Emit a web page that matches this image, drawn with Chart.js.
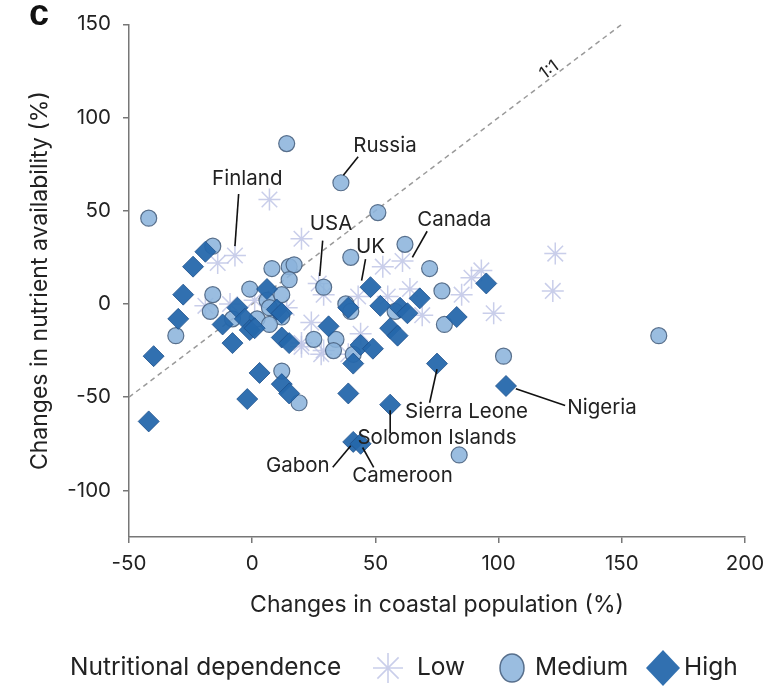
<!DOCTYPE html>
<html>
<head>
<meta charset="utf-8">
<script src="https://cdn.jsdelivr.net/npm/chart.js@4.4.0/dist/chart.umd.min.js"></script>
<style>
  html, body { margin: 0; padding: 0; background: #fff; }
  #wrap { width: 774px; height: 687px; position: relative; }
</style>
</head>
<body>
<div id="wrap"><canvas id="chartContainer"></canvas></div>
<script>
// Nutritional dependence: low (stars)
const lowX = [7, 20, -7, -14, -19, -9, 14, 27, 20, 29, 29, 43, 55, 53, 61, 64, 69, 44, 28, 39, 85, 89, 93, 98, 123, 122, 20, 1, 24];
const lowY = [56, 35, 26, 22, -1, 0, -2, 11, -23, -25, 5, 4, 4, 20, 23, 8, -6, -16, -27, -27, 5, 14, 18, -5, 27, 7, -21, 2, -10];
// medium (circles)
const medX = [-42, 14, 36, 51, 62, 40, 72, 29, 8, 15, 17, 15, -16, -1, -16, -17, -31, 6, 12, 7, 12, 2, 7, -8, 25, 34, 33, 41, 38, 40, 58, 77, 78, 102, 165, 84, 12, 19];
const medY = [46, 86, 65, 49, 32, 25, 19, 9, 19, 20, 21, 13, 31, 8, 5, -4, -17, 2, 5, -2, -7, -8, -11, -8, -19, -19, -25, -27, 0, -4, -4, 7, -11, -28, -17, -81, -36, -53];
// high (diamonds)
const highX = [-19, -24, -28, -30, -12, -8, -40, -6, -3, -1, 1, 6, 10, 12, 12, 15, 31, 48, 68, 95, 39, 52, 60, 63, 56, 59, 83, 44, 49, 41, 75, 39, 56, 103, 41, 44, 3, 12, 15, -2, -42];
const highY = [28, 20, 5, -8, -11, -21, -28, -2, -8, -14, -13, 8, -3, -5, -18, -21, -12, 9, 3, 11, -2, -1, -2, -5, -13, -17, -7, -22, -24, -32, -32, -48, -54, -44, -74, -75, -37, -43, -48, -51, -63];

const oneToOneX = [-50, 150];
const xTicks = [-50, 0, 50, 100, 150, 200];
const yTicks = [-100, -50, 0, 50, 100, 150];

// country labels: text anchor and leader line, in data units
const callouts = [
  { text: 'Russia', x: 41, y: 85, align: 'left', line: [43, 79, 37, 69] },
  { text: 'Finland', x: -2, y: 67, align: 'center', line: [-5.5, 59, -7, 31] },
  { text: 'USA', x: 32, y: 43, align: 'center', line: [28.6, 34, 27.4, 15] },
  { text: 'UK', x: 48, y: 30.4, align: 'center', line: [46, 24, 44.4, 12.5] },
  { text: 'Canada', x: 82, y: 45, align: 'center', line: [71, 39, 65, 25] },
  { text: 'Sierra Leone', x: 87, y: -58, align: 'center', line: [75, -35, 72, -53] },
  { text: 'Nigeria', x: 142, y: -55.5, align: 'center', line: [107, -45.5, 127, -54.5] },
  { text: 'Solomon Islands', x: 75, y: -72, align: 'center', line: [56, -57, 56, -69.5] },
  { text: 'Gabon', x: 18.5, y: -87, align: 'center', line: [32.7, -87.6, 40, -76] },
  { text: 'Cameroon', x: 61, y: -92.4, align: 'center', line: [49.3, -87.6, 44.8, -77] }
];

const FONT = 'Inter, "Noto Sans", sans-serif';
const lowColor = 'rgba(192,198,230,0.85)';
const medFill = 'rgba(140,180,220,0.88)';
const medBorder = 'rgba(75,100,130,0.9)';
const highFill = 'rgba(38,104,172,0.95)';
const highBorder = 'rgba(30,80,140,1)';

const toPts = (xs, ys) => xs.map((x, i) => ({ x: x, y: ys[i] }));

const calloutPlugin = {
  id: 'callouts',
  afterDatasetsDraw(chart) {
    const { ctx, scales: { x, y } } = chart;
    ctx.save();
    ctx.strokeStyle = '#111';
    ctx.lineWidth = 1.6;
    ctx.fillStyle = '#222';
    ctx.font = '20.5px ' + FONT;
    ctx.textBaseline = 'middle';
    callouts.forEach(c => {
      const l = c.line;
      ctx.beginPath();
      ctx.moveTo(x.getPixelForValue(l[0]), y.getPixelForValue(l[1]));
      ctx.lineTo(x.getPixelForValue(l[2]), y.getPixelForValue(l[3]));
      ctx.stroke();
      ctx.textAlign = c.align;
      ctx.fillText(c.text, x.getPixelForValue(c.x), y.getPixelForValue(c.y));
    });
    // 1:1 label along the dashed line
    const ax = x.getPixelForValue(120.5), ay = y.getPixelForValue(125.5);
    const ang = Math.atan2(y.getPixelForValue(150) - y.getPixelForValue(0), x.getPixelForValue(150) - x.getPixelForValue(0));
    ctx.translate(ax, ay);
    ctx.rotate(ang);
    ctx.textAlign = 'center';
    ctx.font = '17px ' + FONT;
    ctx.fillText('1:1', 0, 0);
    ctx.restore();

    // panel letter
    ctx.save();
    ctx.fillStyle = '#111';
    ctx.font = 'bold 36px "Liberation Sans", Arial, sans-serif';
    ctx.textBaseline = 'middle';
    ctx.fillText('c', 29, 15);
    ctx.restore();

    // legend
    ctx.save();
    const ly = 668;
    ctx.fillStyle = '#222';
    ctx.font = '24.5px ' + FONT;
    ctx.textBaseline = 'middle';
    ctx.textAlign = 'left';
    ctx.fillText('Nutritional dependence', 70, ly);
    // star
    ctx.strokeStyle = lowColor;
    ctx.lineWidth = 1.6;
    ctx.beginPath();
    for (let k = 0; k < 4; k++) {
      const a = k * Math.PI / 4;
      ctx.moveTo(388 - 15 * Math.sin(a), ly - 15 * Math.cos(a));
      ctx.lineTo(388 + 15 * Math.sin(a), ly + 15 * Math.cos(a));
    }
    ctx.stroke();
    ctx.fillText('Low', 417, ly);
    // circle
    ctx.beginPath();
    ctx.ellipse(512, ly, 12, 14, 0, 0, Math.PI * 2);
    ctx.fillStyle = medFill;
    ctx.fill();
    ctx.strokeStyle = medBorder;
    ctx.lineWidth = 1.5;
    ctx.stroke();
    ctx.fillStyle = '#222';
    ctx.fillText('Medium', 535, ly);
    // diamond
    ctx.beginPath();
    ctx.moveTo(663, ly - 18);
    ctx.lineTo(680, ly);
    ctx.lineTo(663, ly + 18);
    ctx.lineTo(646, ly);
    ctx.closePath();
    ctx.fillStyle = highFill;
    ctx.fill();
    ctx.fillStyle = '#222';
    ctx.fillText('High', 684, ly);
    ctx.restore();
  }
};

const ctx = document.getElementById('chartContainer').getContext('2d');
const chart = new Chart(ctx, {
  type: 'scatter',
  data: {
    datasets: [
      {
        label: '1:1',
        data: toPts(oneToOneX, oneToOneX),
        showLine: true,
        borderColor: '#9a9a9a',
        borderWidth: 1.5,
        borderDash: [5, 4],
        pointRadius: 0,
        order: 10
      },
      {
        label: 'Low',
        data: toPts(lowX, lowY),
        pointStyle: 'star',
        pointRadius: 11,
        borderColor: lowColor,
        borderWidth: 1.5,
        order: 3
      },
      {
        label: 'Medium',
        data: toPts(medX, medY),
        pointStyle: 'circle',
        pointRadius: 8,
        backgroundColor: medFill,
        borderColor: medBorder,
        borderWidth: 1.2,
        order: 2
      },
      {
        label: 'High',
        data: toPts(highX, highY),
        pointStyle: 'rectRot',
        pointRadius: 10.5,
        backgroundColor: highFill,
        borderColor: highBorder,
        borderWidth: 0.8,
        order: 1
      }
    ]
  },
  options: {
    responsive: true,
    maintainAspectRatio: false,
    animation: false,
    layout: { padding: { left: 0, right: 29, top: 22, bottom: 0 } },
    plugins: { legend: { display: false }, tooltip: { enabled: false } },
    scales: {
      x: {
        type: 'linear',
        min: -50,
        max: 200,
        afterBuildTicks: s => { s.ticks = xTicks.map(v => ({ value: v })); },
        afterFit: s => { s.height = 150; },
        grid: { drawOnChartArea: false, tickLength: 6, color: '#777', lineWidth: 1.5 },
        border: { color: '#777', width: 1.5 },
        ticks: { color: '#222', font: { family: FONT, size: 20.5 }, padding: 9 },
        title: { display: true, text: 'Changes in coastal population (%)', color: '#222',
                 font: { family: FONT, size: 23 }, padding: { bottom: 68 } }
      },
      y: {
        type: 'linear',
        min: -125,
        max: 150,
        afterBuildTicks: s => { s.ticks = yTicks.map(v => ({ value: v })); },
        afterFit: s => { s.width = 129; },
        grid: { drawOnChartArea: false, tickLength: 6, color: '#777', lineWidth: 1.5 },
        border: { color: '#777', width: 1.5 },
        ticks: { color: '#222', font: { family: FONT, size: 20.5 }, padding: 12 },
        title: { display: true, text: 'Changes in nutrient availability (%)', color: '#222',
                 font: { family: FONT, size: 23 }, padding: { top: 26 } }
      }
    }
  },
  plugins: [calloutPlugin]
});
</script>
</body>
</html>
